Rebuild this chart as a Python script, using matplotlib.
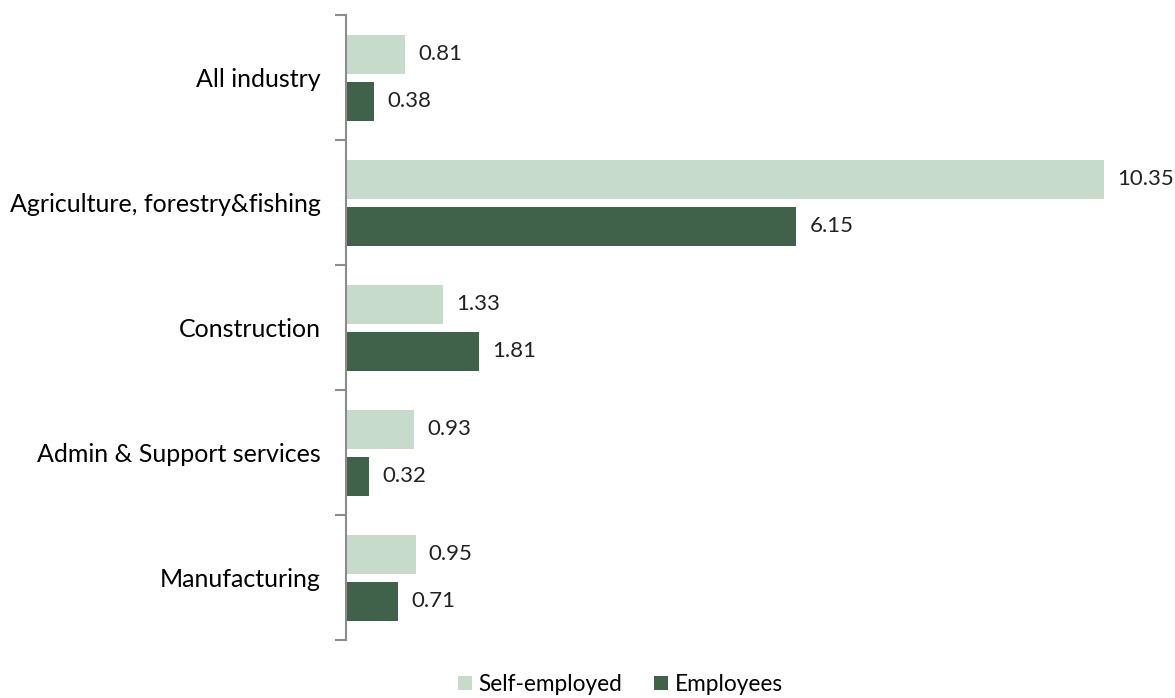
import numpy as np
import matplotlib.pyplot as plt

# Rates by industry, self-employed vs employees
industries = ['All industry', 'Agriculture, forestry&fishing', 'Construction',
              'Admin & Support services', 'Manufacturing']
self_employed = [0.81, 10.35, 1.33, 0.93, 0.95]
employees = [0.38, 6.15, 1.81, 0.32, 0.71]

light = '#c6dbca'
dark = '#41624a'
axis_grey = '#8c8c8c'

plt.rcParams['font.family'] = ['Lato', 'DejaVu Sans']

fig = plt.figure(figsize=(11.75, 6.98), dpi=100)
ax = fig.add_axes([0.2945, 0.083, 0.698, 0.8955])

y = np.arange(len(industries))
off = 0.188
h = 0.312
b1 = ax.barh(y - off, self_employed, height=h, color=light, label='Self-employed')
b2 = ax.barh(y + off, employees, height=h, color=dark, label='Employees')

for bars, vals in ((b1, self_employed), (b2, employees)):
    for rect, v in zip(bars, vals):
        ax.text(v + 0.18, rect.get_y() + rect.get_height() / 2, f'{v:.2f}',
                va='center', ha='left', fontsize=16, color='#222222')

ax.set_ylim(len(industries) - 0.5, -0.5)
ax.set_xlim(0, 11.2)

ax.set_yticks(y)
ax.set_yticklabels(industries, fontsize=18)
ax.set_yticks(np.arange(-0.5, len(industries)), minor=True)
ax.tick_params(axis='y', which='major', length=0, pad=18)
ax.tick_params(axis='y', which='minor', length=8, width=1.5, color=axis_grey, direction='out')
ax.set_xticks([])

for s in ('top', 'right', 'bottom'):
    ax.spines[s].set_visible(False)
ax.spines['left'].set_color(axis_grey)
ax.spines['left'].set_linewidth(1.5)

fig.legend(handles=[b1, b2], loc='lower center', ncol=2, frameon=False,
           bbox_to_anchor=(0.528, -0.025), fontsize=16.3, handlelength=0.6,
           handleheight=0.6, handletextpad=0.3, columnspacing=1.4)

fig.savefig('out.png', dpi=100)
